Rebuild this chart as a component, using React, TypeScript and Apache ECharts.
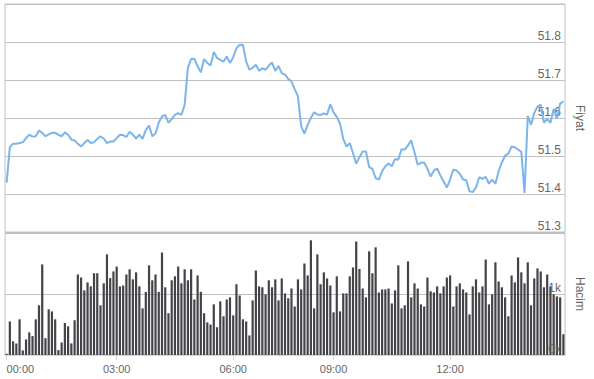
import React, { useEffect, useRef } from "react";
import * as echarts from "echarts";

const priceValues = [
  51.430, 51.524, 51.532, 51.532, 51.534, 51.536, 51.547, 51.556, 51.551, 51.552,
  51.567, 51.561, 51.552, 51.557, 51.561, 51.561, 51.556, 51.552, 51.562, 51.556,
  51.543, 51.541, 51.532, 51.525, 51.534, 51.542, 51.534, 51.536, 51.545, 51.552,
  51.546, 51.534, 51.538, 51.538, 51.547, 51.556, 51.555, 51.550, 51.564, 51.556,
  51.546, 51.556, 51.545, 51.568, 51.580, 51.552, 51.559, 51.588, 51.604, 51.608,
  51.587, 51.597, 51.608, 51.613, 51.608, 51.635, 51.732, 51.755, 51.756, 51.736,
  51.720, 51.755, 51.745, 51.738, 51.774, 51.758, 51.753, 51.748, 51.762, 51.745,
  51.760, 51.784, 51.793, 51.792, 51.749, 51.727, 51.732, 51.740, 51.724, 51.731,
  51.727, 51.738, 51.746, 51.724, 51.737, 51.718, 51.714, 51.703, 51.696, 51.676,
  51.657, 51.578, 51.559, 51.582, 51.600, 51.615, 51.609, 51.608, 51.612, 51.609,
  51.636, 51.615, 51.603, 51.585, 51.545, 51.525, 51.534, 51.508, 51.480, 51.497,
  51.512, 51.512, 51.471, 51.466, 51.442, 51.438, 51.460, 51.473, 51.480, 51.473,
  51.492, 51.490, 51.518, 51.517, 51.528, 51.541, 51.510, 51.477, 51.482, 51.483,
  51.466, 51.446, 51.462, 51.467, 51.449, 51.433, 51.417, 51.438, 51.464, 51.462,
  51.453, 51.438, 51.436, 51.407, 51.405, 51.417, 51.444, 51.440, 51.445, 51.427,
  51.438, 51.427, 51.460, 51.483, 51.501, 51.506, 51.525, 51.523, 51.517, 51.511,
  51.403, 51.606, 51.582, 51.613, 51.630, 51.635, 51.587, 51.598, 51.587, 51.624,
  51.598, 51.638, 51.644,
];

const volumeValues = [
  20, 550, 225, 190, 585, 75, 255, 370, 310, 585,
  815, 1485, 275, 750, 715, 585, 80, 205, 525, 470,
  190, 570, 1320, 1270, 1060, 1190, 1125, 1340, 1340, 815,
  1175, 1650, 1260, 1370, 1450, 1125, 1140, 1320, 1405, 1240,
  1355, 1125, 765, 1035, 1470, 1225, 1320, 1035, 1680, 1110,
  685, 1225, 1290, 1450, 1175, 1405, 1225, 1405, 910, 1305,
  1035, 685, 535, 500, 830, 455, 880, 635, 910, 945,
  650, 1160, 975, 585, 550, 320, 895, 1385, 1125, 1110,
  995, 1225, 1110, 1240, 895, 1255, 1010, 930, 1090, 795,
  1240, 1075, 1500, 1305, 1880, 765, 1650, 1160, 1355, 1255,
  1140, 700, 1290, 715, 1010, 1010, 1290, 1435, 1860, 1410,
  1090, 945, 1700, 1340, 1765, 1025, 1075, 1075, 1090, 845,
  1060, 1470, 765, 815, 1535, 945, 1175, 1090, 830, 795,
  1270, 1045, 1025, 1125, 1010, 1125, 1270, 1305, 795, 1125,
  1175, 1075, 1025, 665, 1125, 1240, 1025, 1125, 1565, 830,
  995, 1520, 1205, 1110, 945, 635, 1305, 1190, 1600, 1355,
  1175, 1520, 815, 1255, 1420, 1370, 1110, 1320, 1125, 995,
  960, 945, 340,
];

const timeTickIndices = [0, 34, 70, 101, 137];
const timeTickLabels = ["00:00", "03:00", "06:00", "09:00", "12:00"];

const categories = volumeValues.map((_, i) => String(i));

const FONT = "'Liberation Sans', Arial, sans-serif";
const LABEL_COLOR = "#666666";
const GRID_COLOR = "#c0c0c0";

export default function App() {
  const ref = useRef<HTMLDivElement>(null);

  useEffect(() => {
    if (!ref.current) return;
    const chart = echarts.init(ref.current, undefined, { renderer: "svg" });
    const isTick = (i: number) => timeTickIndices.includes(i);
    chart.setOption({
      animation: false,
      backgroundColor: "#ffffff",
      textStyle: { fontFamily: FONT },
      grid: [
        { left: 5, right: 24, top: 4, height: 228, show: true, borderColor: GRID_COLOR, borderWidth: 1 },
        { left: 5, right: 24, top: 233, height: 122, show: true, borderColor: GRID_COLOR, borderWidth: 1 },
      ],
      xAxis: [
        {
          type: "category",
          gridIndex: 0,
          data: categories,
          axisLine: { show: false },
          axisTick: { show: false },
          axisLabel: { show: false },
          splitLine: { show: false },
        },
        {
          type: "category",
          gridIndex: 1,
          data: categories,
          axisLine: { show: true, lineStyle: { color: "#ccd6eb", width: 1 } },
          axisTick: {
            show: true,
            alignWithLabel: true,
            interval: (i: number) => isTick(i),
            length: 5,
            lineStyle: { color: "#ccd6eb" },
          },
          axisLabel: {
            interval: (i: number) => isTick(i),
            formatter: (v: string) => {
              const k = timeTickIndices.indexOf(Number(v));
              return k >= 0 ? timeTickLabels[k] : "";
            },
            color: LABEL_COLOR,
            fontSize: 11,
            fontFamily: FONT,
            margin: 8,
            alignMinLabel: "left",
          },
          splitLine: { show: false },
        },
      ],
      yAxis: [
        {
          type: "value",
          gridIndex: 0,
          position: "right",
          min: 51.3,
          max: 51.9,
          interval: 0.1,
          axisLine: { show: false },
          axisTick: { show: false },
          splitLine: { show: true, lineStyle: { color: GRID_COLOR, width: 1 } },
          axisLabel: {
            inside: true,
            showMaxLabel: false,
            showMinLabel: true,
            verticalAlign: "bottom",
            margin: 4,
            formatter: (v: number) => v.toFixed(1),
            color: LABEL_COLOR,
            fontSize: 12,
            fontFamily: FONT,
          },
          name: "Fiyat",
          nameLocation: "middle",
          nameRotate: -90,
          nameGap: 9,
          nameTextStyle: { color: LABEL_COLOR, fontSize: 12, fontFamily: FONT },
        },
        {
          type: "value",
          gridIndex: 1,
          position: "right",
          min: 0,
          max: 2000,
          interval: 1000,
          axisLine: { show: false },
          axisTick: { show: false },
          splitLine: { show: true, lineStyle: { color: GRID_COLOR, width: 1 } },
          axisLabel: { show: false },
          name: "Hacim",
          nameLocation: "middle",
          nameRotate: -90,
          nameGap: 9,
          nameTextStyle: { color: LABEL_COLOR, fontSize: 12, fontFamily: FONT },
        },
        {
          type: "value",
          gridIndex: 1,
          position: "right",
          min: 0,
          max: 2000,
          interval: 1000,
          z: 10,
          axisLine: { show: false },
          axisTick: { show: false },
          splitLine: { show: false },
          axisLabel: {
            inside: true,
            showMaxLabel: false,
            showMinLabel: true,
            verticalAlign: "bottom",
            margin: 4,
            formatter: (v: number) => v / 1000 + "k",
            color: LABEL_COLOR,
            fontSize: 12,
            fontFamily: FONT,
          },
        },
      ],
      series: [
        {
          type: "line",
          xAxisIndex: 0,
          yAxisIndex: 0,
          data: priceValues,
          symbol: "none",
          lineStyle: { color: "#7cb5ec", width: 2 },
          itemStyle: { color: "#7cb5ec" },
        },
        {
          type: "bar",
          xAxisIndex: 1,
          yAxisIndex: 1,
          data: volumeValues,
          barCategoryGap: "32%",
          itemStyle: { color: "#434348" },
        },
      ],
    });
    return () => chart.dispose();
  }, []);

  return (
    <div
      ref={ref}
      style={{ position: "absolute", left: 0, top: 0, width: 594, height: 379 }}
    />
  );
}
